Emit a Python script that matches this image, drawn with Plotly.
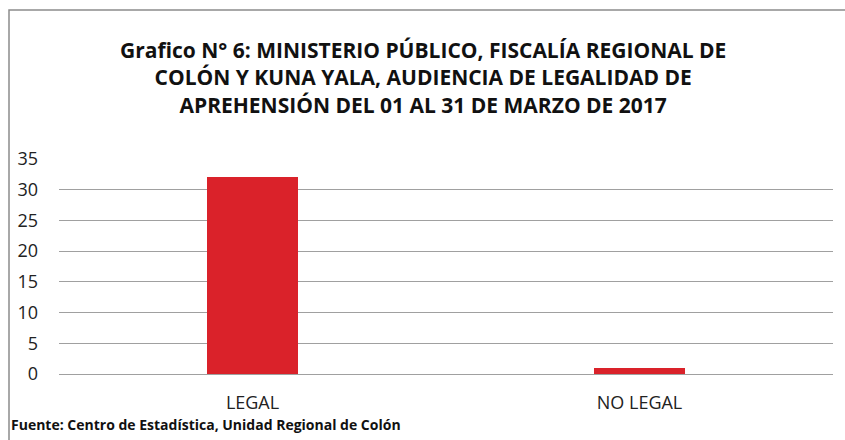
import plotly.graph_objects as go

categorias = ["LEGAL", "NO LEGAL"]
valores = [32, 1]
ticks_y = [0, 5, 10, 15, 20, 25, 30, 35]

titulo = ("Grafico N° 6: MINISTERIO PÚBLICO, FISCALÍA REGIONAL DE<br>"
          "COLÓN Y KUNA YALA, AUDIENCIA DE LEGALIDAD DE<br>"
          "APREHENSIÓN DEL 01 AL 31 DE MARZO DE 2017")
fuente = "Fuente: Centro de Estadística, Unidad Regional de Colón"

fig = go.Figure()
fig.add_trace(go.Bar(x=categorias, y=valores, marker_color="#DA222A",
                     marker_line_width=0, width=0.235))

fig.update_layout(
    width=845, height=440,
    margin=dict(l=59, r=12, t=159, b=66),
    paper_bgcolor="white", plot_bgcolor="white",
    font=dict(family="Open Sans", color="#222"),
    showlegend=False,
    bargap=0,
)
fig.update_yaxes(range=[0, 35], tickvals=ticks_y, showgrid=True,
                 gridcolor="#a0a0a0", gridwidth=1, zeroline=True,
                 zerolinecolor="#a0a0a0", zerolinewidth=1,
                 showline=False, ticklabelstandoff=20,
                 tickfont=dict(size=18, color="#222"))
fig.update_xaxes(showline=False, ticklabelstandoff=16,
                 tickfont=dict(size=18, color="#222"))

fig.add_annotation(text="<b>" + titulo + "</b>", xref="paper", yref="paper",
                   x=(423 - 59) / 774, y=(374 - 77) / 215, xanchor="center", yanchor="middle",
                   showarrow=False, font=dict(size=21, color="#111"))
fig.add_annotation(text="<b>" + fuente + "</b>", xref="paper", yref="paper",
                   x=(9 - 59) / 774, y=(374 - 424) / 215, xanchor="left", yanchor="middle",
                   showarrow=False, font=dict(size=14, color="#111"))

# outer frame: only the left and top edges are visible in the picture
bx = (9 - 59) / 774
by = (374 - 10) / 215
fig.add_shape(type="path", xref="paper", yref="paper",
              path=f"M {bx},-0.5 L {bx},{by} L 1.05,{by}",
              line=dict(color="#8c8c8c", width=1.5))

# drop the page's default body margin so the figure fills the window
fig.write_html("out.html", config={"displayModeBar": False},
               post_script="document.body.style.margin='0';document.body.style.overflow='hidden';")
